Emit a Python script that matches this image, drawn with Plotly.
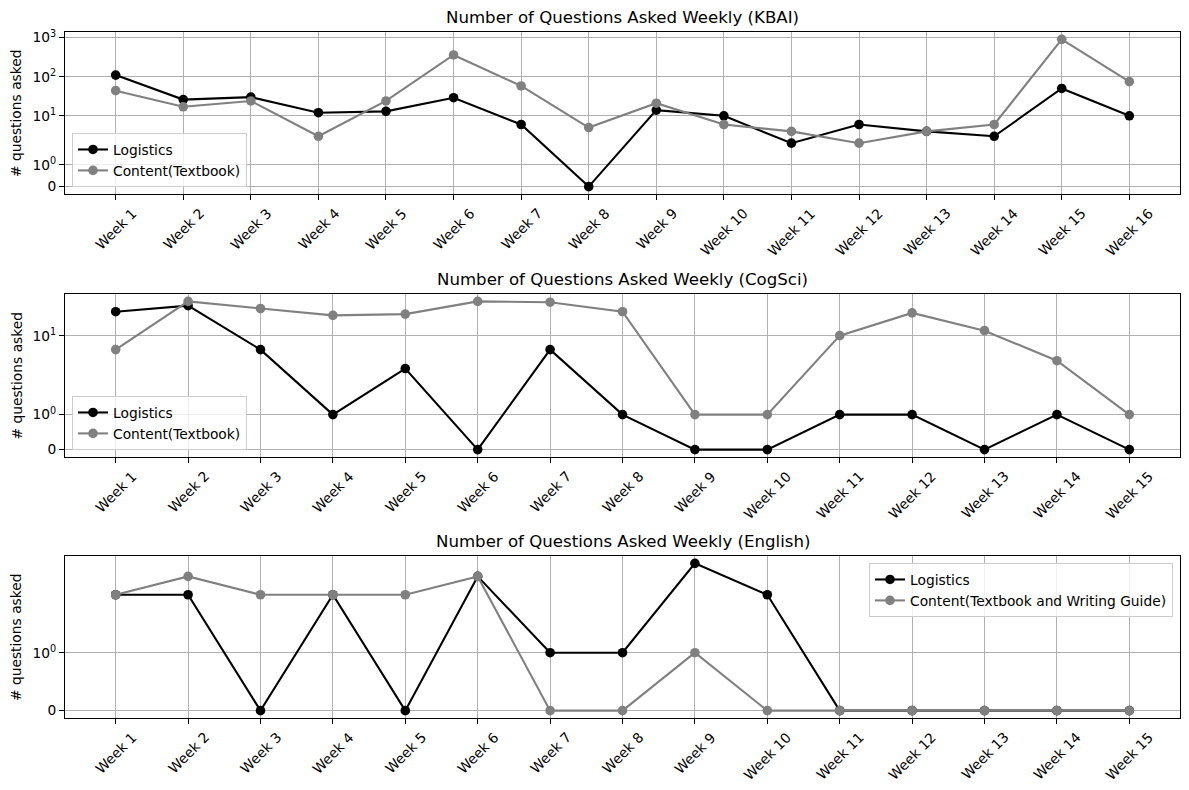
import math
import plotly.graph_objects as go

# ---------------- data ----------------
weeks_kbai = ["Week 1", "Week 2", "Week 3", "Week 4", "Week 5", "Week 6", "Week 7", "Week 8",
              "Week 9", "Week 10", "Week 11", "Week 12", "Week 13", "Week 14", "Week 15", "Week 16"]
weeks_15 = ["Week 1", "Week 2", "Week 3", "Week 4", "Week 5", "Week 6", "Week 7", "Week 8",
            "Week 9", "Week 10", "Week 11", "Week 12", "Week 13", "Week 14", "Week 15"]

kbai_logistics = [110, 26, 30, 12, 13, 29, 6, 0, 14, 10, 2, 6, 4, 3, 50, 10]
kbai_content = [44, 17, 24, 3, 24, 360, 58, 5, 21, 6, 4, 2, 4, 6, 900, 75]

cogsci_logistics = [24, 30, 6, 1, 3, 0, 6, 1, 0, 0, 1, 1, 0, 1, 0]
cogsci_content = [6, 35, 27, 21, 22, 35, 34, 24, 1, 1, 10, 23, 12, 4, 1]

english_logistics = [2, 2, 0, 2, 0, 3, 1, 1, 4, 2, 0, 0, 0, 0, 0]
english_content = [2, 3, 2, 2, 2, 3, 0, 0, 1, 0, 0, 0, 0, 0, 0]

titles = ["Number of Questions Asked Weekly (KBAI)",
          "Number of Questions Asked Weekly (CogSci)",
          "Number of Questions Asked Weekly (English)"]
content_names = ["Content(Textbook)", "Content(Textbook)", "Content(Textbook and Writing Guide)"]
y_label = "# questions asked"
y_tick_values = [0, 1, 10, 100, 1000]
y_tick_labels = ["0", "10<sup>0</sup>", "10<sup>1</sup>", "10<sup>2</sup>", "10<sup>3</sup>"]

# ---------------- symlog scale (matplotlib default: linthresh=2, linscale=1) ----------------
LINTHRESH = 2.0
LINSCALE_ADJ = 1.0 / (1.0 - 1.0 / 10.0)


def symlog(v):
    a = abs(v)
    if a <= LINTHRESH:
        return v * LINSCALE_ADJ
    s = 1 if v > 0 else -1
    return s * LINTHRESH * (LINSCALE_ADJ + math.log10(a / LINTHRESH))


# ---------------- layout geometry ----------------
W, H = 1189, 790
L, R, T, B = 65, 9, 32, 72
PW, PH = W - L - R, H - T - B
# axes pixel extents (top, bottom)
panels_px = [(32, 194), (294, 457), (556, 718)]


def dom(top, bot):
    return [(H - B - bot) / PH, (H - B - top) / PH]


FONT = "DejaVu Sans"
TICK_FS = 13.8
TITLE_FS = 16.6
BLACK = "#000000"
GRAY = "#808080"
GRID = "#b0b0b0"

fig = go.Figure()

panels = [
    (weeks_kbai, kbai_logistics, kbai_content),
    (weeks_15, cogsci_logistics, cogsci_content),
    (weeks_15, english_logistics, english_content),
]
legend_ids = ["legend", "legend2", "legend3"]

annotations = []
for i, (weeks, logi, cont) in enumerate(panels):
    n = i + 1
    xs = list(range(len(weeks)))
    xa = "x" if n == 1 else f"x{n}"
    ya = "y" if n == 1 else f"y{n}"
    for vals, name, color in [(logi, "Logistics", BLACK), (cont, content_names[i], GRAY)]:
        fig.add_trace(go.Scatter(
            x=xs, y=[symlog(v) for v in vals], customdata=vals,
            mode="lines+markers", name=name,
            line=dict(color=color, width=2.08),
            marker=dict(color=color, size=9.6, symbol="circle"),
            xaxis=xa, yaxis=ya, legend=legend_ids[i],
            hovertemplate="%{text}: %{customdata}<extra>" + name + "</extra>",
            text=weeks,
        ))

    tvals = [symlog(v) for v in logi + cont]
    lo, hi = min(tvals), max(tvals)
    span = hi - lo
    yr = [lo - 0.05 * span, hi + 0.05 * span]
    nx = len(weeks)
    xr = [-0.05 * (nx - 1), (nx - 1) * 1.05]

    tv, tt = [], []
    for v, lab in zip(y_tick_values, y_tick_labels):
        s = symlog(v)
        if yr[0] <= s <= yr[1]:
            tv.append(s)
            tt.append(lab)

    top, bot = panels_px[i]
    axis_common = dict(showline=True, mirror=True, linecolor="black", linewidth=1.1,
                       ticks="outside", ticklen=5, tickwidth=1.1, tickcolor="black",
                       showgrid=True, gridcolor=GRID, gridwidth=1.1, zeroline=False)
    fig.update_layout(**{
        ("xaxis" if n == 1 else f"xaxis{n}"): dict(
            domain=[0, 1], anchor=ya, range=xr, tickvals=xs, showticklabels=False,
            **axis_common),
        ("yaxis" if n == 1 else f"yaxis{n}"): dict(
            domain=dom(top, bot), anchor=xa, range=yr, tickvals=tv, ticktext=tt,
            tickfont=dict(size=TICK_FS, color="black", family=FONT), **axis_common),
    })

    # rotated x tick labels (centre-aligned like matplotlib rotation=45)
    for xv, wk in zip(xs, weeks):
        annotations.append(dict(
            x=xv, xref=xa, y=0, yref=f"{ya} domain", text=wk, showarrow=False,
            textangle=-45, xanchor="center", yanchor="top", yshift=-8,
            font=dict(size=TICK_FS, color="black", family=FONT)))
    # title
    annotations.append(dict(
        x=0.5, xref=f"{xa} domain", y=1, yref=f"{ya} domain", text=titles[i], showarrow=False,
        xanchor="center", yanchor="bottom", yshift=3,
        font=dict(size=TITLE_FS, color="black", family=FONT)))
    # y label
    annotations.append(dict(
        x=(16 - L) / PW, xref="paper", y=0.5, yref=f"{ya} domain", text=y_label, showarrow=False,
        textangle=-90, xanchor="center", yanchor="middle",
        font=dict(size=TICK_FS, color="black", family=FONT)))

legend_common = dict(bgcolor="rgba(255,255,255,0.8)", bordercolor="#cccccc", borderwidth=1,
                     font=dict(size=TICK_FS, color="black", family=FONT),
                     tracegroupgap=0, itemwidth=30)
d1 = dom(*panels_px[0])
d2 = dom(*panels_px[1])
d3 = dom(*panels_px[2])
fig.update_layout(
    width=W, height=H,
    margin=dict(l=L, r=R, t=T, b=B),
    plot_bgcolor="white", paper_bgcolor="white",
    font=dict(family=FONT, size=TICK_FS, color="black"),
    annotations=annotations,
    showlegend=True,
    legend=dict(x=7 / PW, y=d1[0] + 7 / PH, xanchor="left", yanchor="bottom", **legend_common),
    legend2=dict(x=7 / PW, y=d2[0] + 7 / PH, xanchor="left", yanchor="bottom", **legend_common),
    legend3=dict(x=1 - 7 / PW, y=d3[1] - 7 / PH, xanchor="right", yanchor="top", **legend_common),
)

fig.write_html("out.html", config={"displayModeBar": False},
               post_script="document.body.style.margin='0';")
